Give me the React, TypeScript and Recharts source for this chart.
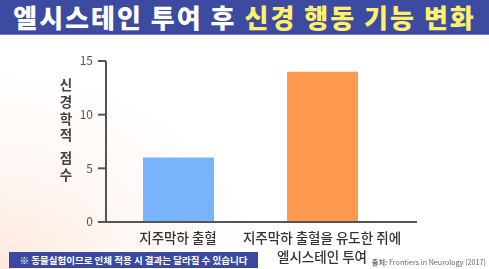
import React from 'react';
import { BarChart, Bar, XAxis, YAxis, Cell } from 'recharts';

const categories = ['지주막하 출혈', '지주막하 출혈을 유도한 쥐에|엘시스테인 투여'];
const scores = [6, 14];
const barColors = ['#79b3fb', '#ff9a50'];
const yTicks = [0, 5, 10, 15];
const yLabelChars = ['신', '경', '학', '적', '점', '수'];

const data = categories.map((c, i) => ({ name: c, score: scores[i] }));

const KR = '"Noto Sans CJK KR", "Noto Sans", sans-serif';

const CategoryTick = (props: any) => {
  const { x, y, payload } = props;
  const lines: string[] = String(payload.value).split('|');
  return (
    <text x={x} y={y} textAnchor="middle" fill="#333" fontSize={13.5} fontFamily={KR} fontWeight={500}>
      {lines.map((l, i) => (
        <tspan key={i} x={x} dy={i === 0 ? 13 : 19}>
          {l}
        </tspan>
      ))}
    </text>
  );
};

// vertical axis title, one glyph per row with a gap between the two words
const YTitle = () => (
  <svg style={{ position: 'absolute', left: 0, top: 0 }} width={100} height={200}>
    {yLabelChars.map((ch, i) => (
      <text
        key={i}
        x={66}
        y={90 + i * 16.8 + (i >= 4 ? 6 : 0)}
        textAnchor="middle"
        fontSize={13.5}
        fontWeight={700}
        fill="#444"
        fontFamily={KR}
      >
        {ch}
      </text>
    ))}
  </svg>
);

const App: React.FC = () => {
  return (
    <div
      style={{
        position: 'fixed',
        left: 0,
        top: 0,
        width: 489,
        height: 269,
        overflow: 'hidden',
        background: 'radial-gradient(ellipse 260px 200px at 0% 100%, #fde8dc 0%, #fef6f1 45%, #ffffff 100%)',
        fontFamily: KR,
      }}
    >
      <div
        style={{
          position: 'absolute',
          left: 0,
          top: 0,
          width: 489,
          height: 34,
          background: '#3c4a9f',
          borderBottom: '1px solid #6f7cc0',
        }}
      />
      <div
        style={{
          position: 'absolute',
          left: 0,
          top: 0,
          width: 489,
          textAlign: 'center',
          fontSize: 26,
          fontWeight: 900,
          lineHeight: '34px',
          letterSpacing: 2,
          color: '#ffffff',
          whiteSpace: 'nowrap',
        }}
      >
        엘시스테인 투여 후 <span style={{ color: '#fdf06c' }}>신경 행동 기능 변화</span>
      </div>

      <YTitle />

      <div style={{ position: 'absolute', left: 0, top: 0 }}>
        <BarChart width={489} height={269} data={data} margin={{ top: 61, right: 72, bottom: 0, left: 0 }}>
          <XAxis
            dataKey="name"
            height={47}
            padding={{ left: 0, right: 23 }}
            tickLine={false}
            axisLine={{ stroke: '#555', strokeWidth: 2 }}
            tick={<CategoryTick />}
            interval={0}
          />
          <YAxis
            width={106}
            domain={[0, 15]}
            ticks={yTicks}
            tickSize={8}
            tickMargin={5}
            axisLine={{ stroke: '#555', strokeWidth: 2 }}
            tickLine={{ stroke: '#555', strokeWidth: 2 }}
            tick={{ fill: '#555', fontSize: 12, fontFamily: KR }}
          />
          <Bar dataKey="score" barSize={71} isAnimationActive={false}>
            {data.map((d, i) => (
              <Cell key={d.name} fill={barColors[i]} />
            ))}
          </Bar>
        </BarChart>
      </div>

      <div
        style={{
          position: 'absolute',
          left: 9,
          top: 252,
          width: 249,
          height: 16,
          background: '#3a49a0',
          color: '#fff',
          fontSize: 9.5,
          fontWeight: 700,
          lineHeight: '16px',
          textAlign: 'center',
          whiteSpace: 'nowrap',
        }}
      >
        ※ 동물실험이므로 인체 적용 시 결과는 달라질 수 있습니다
      </div>

      <div
        style={{
          position: 'absolute',
          right: 3,
          top: 257,
          fontSize: 7.2,
          color: '#666',
          whiteSpace: 'nowrap',
          lineHeight: '10px',
        }}
      >
        <span style={{ fontWeight: 700 }}>출처:</span> Frontiers in Neurology (2017)
      </div>
    </div>
  );
};

export default App;
